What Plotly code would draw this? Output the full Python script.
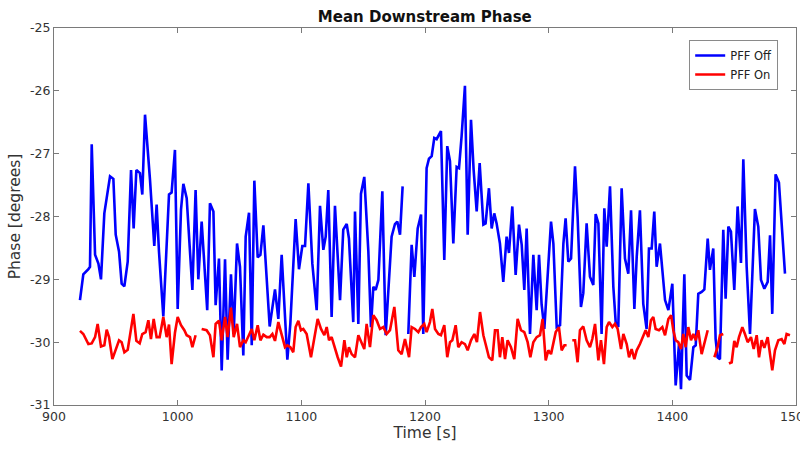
import plotly.graph_objects as go

# PFF Off (blue) — None marks gaps in the record
t_off = [921.0, 923.7, 927.8, 929.1, 930.5, 933.2, 935.9, 938.0, 940.7, 945.3, 948.0, 949.9, 952.6, 954.7,
         956.9, 959.6, 962.3, 964.4, 966.6, 969.5, 971.4, 973.6, 977.6, 981.1, 983.0, 984.9, 988.4, 993.0,
         995.1, 997.8, 1000.0, 1002.7, 1004.6, 1007.3, 1011.9, 1014.5, 1016.7, 1019.4, 1023.9, 1026.1,
         1028.9, 1030.7, 1033.4, 1035.6, 1038.3, 1040.4, 1043.1, 1045.3, 1048.0, 1050.4, 1053.1, 1055.0,
         1057.7, 1059.9, 1062.0, 1064.7, 1066.9, 1069.3, 1074.4, 1078.7, 1081.4, 1084.1, 1088.7, 1091.1,
         1095.4, 1098.1, 1100.8, 1103.0, 1105.7, 1108.9, 1112.4, 1115.1, 1117.8, 1119.7, 1121.8, 1124.5,
         1127.2, 1131.3, 1133.9, 1136.7, 1138.5, 1142.0, 1143.4, 1146.1, 1148.2, 1150.9, 1154.2, 1156.3,
         1158.2, 1160.1, 1162.3, 1165.5, 1168.2, 1173.0, 1175.7, 1177.6, 1179.8, 1181.9, 1184.0, 1186.5,
         1189.2, 1191.4, 1194.1, 1196.8, 1198.6, 1201.3, 1203.2, 1205.4, 1207.5, 1209.4, 1211.3, 1212.9,
         1215.6, 1218.0, 1220.2, 1222.9, 1225.6, 1227.5, 1229.6, 1232.3, 1234.5, 1237.2, 1239.3, 1241.8,
         1244.2, 1247.2, 1249.0, 1251.7, 1253.9, 1256.0, 1257.9, 1260.6, 1263.3, 1266.0, 1267.9, 1270.6,
         1273.3, 1276.0, 1278.2, 1280.3, 1282.2, 1284.9, 1287.6, 1290.3, 1292.2, 1294.3, 1296.5, 1299.2,
         1301.9, 1303.8, 1306.5, 1309.2, 1311.9, 1313.7, 1315.9, 1318.1, 1321.3, 1323.4, 1326.1, 1328.0,
         1330.7, 1333.4, 1336.1, 1338.0, 1340.2, 1342.8, 1345.0, 1346.9, 1349.6, 1352.3, 1354.2, 1356.3,
         1359.0, 1361.7, 1364.4, 1366.6, 1369.3, 1371.2, 1373.8, 1376.5, 1379.2, 1381.1, 1383.3, 1385.4,
         1387.3, 1390.0, 1392.7, 1394.1, 1396.8, 1400.0, 1402.7, 1405.4, 1407.0, 1409.7, 1411.6, 1414.3,
         1417.0, 1418.9, 1421.0, 1423.7, 1425.9, 1428.6, 1430.4, 1433.1, 1435.0, 1436.6, 1438.5, 1441.2,
         1443.1, 1445.3, 1447.4, 1450.1, 1452.8, 1455.5, 1457.4, 1460.1, 1462.8, 1466.8, 1469.5, 1471.7,
         1474.4, 1477.1, 1479.0, 1480.8, 1483.5, 1486.2, 1491.1]
phase_off = [-29.33, -28.92, -28.84, -28.80, -26.85, -28.61, -28.75, -29.00, -27.95, -27.36, -27.40, -28.29,
             -28.56, -29.07, -29.11, -28.72, -27.26, -28.19, -27.26, -27.31, -27.65, -26.38, -27.41, -28.47,
             -27.81, -28.56, -29.59, -27.65, -27.62, -26.94, -29.47, -27.89, -27.48, -27.71, -29.17, -27.58,
             -29.00, -28.08, -29.49, -27.79, -27.92, -29.41, -28.67, -30.45, -28.68, -30.28, -28.92, -29.87,
             -28.43, -28.80, -30.21, -28.32, -27.94, -30.05, -27.43, -28.65, -28.61, -28.14, -29.75, -29.16,
             -29.63, -28.61, -30.28, -29.71, -28.04, -28.84, -28.47, -28.47, -27.47, -28.75, -29.49, -27.83,
             -28.53, -28.32, -27.58, -29.60, -27.83, -29.33, -28.21, -28.12, -28.35, -29.68, -27.92, -29.71,
             -27.64, -27.37, -28.56, -29.76, -29.12, -29.17, -29.01, -27.60, -29.89, -28.32, -28.12, -28.08,
             -28.29, -27.52, None, -29.87, -28.45, -28.96, -28.19, -27.97, -29.87, -27.23, -27.08, -27.04,
             -26.75, -26.77, -26.69, -26.64, -28.69, -26.88, -27.12, -28.43, -27.21, -27.23, -26.72, -25.92,
             -28.29, -26.46, -27.25, -27.92, -27.15, -28.13, -28.11, -27.55, -28.19, -27.95, -28.11, -28.43,
             -29.04, -28.32, -28.58, -27.84, -28.93, -28.13, -28.45, -29.17, -28.19, -29.87, -28.61, -29.49,
             -28.61, -29.40, -29.79, -28.85, -28.08, -28.43, -29.76, -29.73, -28.43, -28.03, -28.72, -28.67,
             -27.20, -28.00, -29.44, -29.22, -28.11, -28.96, -29.09, -27.96, -28.11, -29.87, -27.87, -28.48,
             -27.52, -29.12, -29.68, -29.76, -27.55, -28.67, -28.91, -27.90, -29.47, -28.64, -27.90, -29.39,
             -29.79, -28.51, -28.51, -27.92, -28.80, -28.43, -29.04, -29.33, -29.49, -29.07, -30.69, -30.03,
             -30.75, -28.92, -30.53, -30.60, -30.08, -30.05, -29.23, -29.20, -29.16, -28.35, -28.85, -28.51,
             -29.95, -30.24, -30.27, -28.21, -29.31, -28.16, -28.24, -29.17, -27.84, -28.74, -27.09, -28.80,
             -29.87, -27.88, -28.16, -29.01, -29.15, -29.04, -28.30, -29.55, -27.33, -27.46, -28.91]

# PFF On (red)
t_on = [921.0, 923.7, 927.8, 930.5, 933.2, 935.3, 938.0, 940.7, 942.6, 944.5, 947.2, 949.9, 952.6, 954.7,
        956.9, 959.6, 962.3, 964.2, 966.6, 969.3, 971.4, 974.1, 976.3, 978.4, 980.6, 983.0, 985.4, 988.4,
        991.1, 993.0, 995.1, 997.8, 1000.0, 1002.7, 1005.4, 1007.3, 1010.0, 1011.9, 1014.5, 1017.0,
        1019.4, 1023.4, 1026.1, 1028.9, 1030.7, 1033.4, 1035.6, 1038.3, 1040.4, 1043.1, 1045.3, 1048.0,
        1050.4, 1053.1, 1055.0, 1057.7, 1059.9, 1062.0, 1064.7, 1066.9, 1069.3, 1072.0, 1074.4, 1076.6,
        1078.7, 1081.4, 1084.1, 1086.8, 1088.7, 1091.1, 1093.5, 1095.4, 1097.6, 1099.7, 1101.6, 1104.3,
        1107.8, 1110.5, 1113.2, 1115.9, 1118.6, 1120.5, 1122.4, 1124.5, 1126.7, 1129.4, 1132.1, 1134.8,
        1136.7, 1138.5, 1140.7, 1143.4, 1146.1, 1148.8, 1150.9, 1152.8, 1155.5, 1158.2, 1160.9, 1163.6,
        1166.3, 1169.0, 1171.7, 1175.2, 1178.4, 1181.1, 1183.8, 1187.1, 1189.2, 1191.9, 1194.6, 1196.8,
        1199.4, 1201.3, 1204.0, 1205.9, 1208.1, 1210.8, 1212.9, 1215.6, 1218.0, 1220.2, 1222.1, 1224.8,
        1226.9, 1229.6, 1232.3, 1234.5, 1237.2, 1239.9, 1242.0, 1244.5, 1247.2, 1249.0, 1251.7, 1254.4,
        1256.6, 1258.7, 1260.6, 1262.5, 1264.7, 1266.8, 1269.5, 1272.2, 1274.9, 1277.6, 1280.3, 1283.0,
        1285.2, 1287.6, 1290.3, 1293.0, 1295.1, 1297.6, 1299.7, 1301.9, 1303.8, 1305.7, 1308.3, 1310.5,
        1312.7, 1314.5, 1316.8, 1319.1, 1321.3, 1323.4, 1325.3, 1328.0, 1330.7, 1333.4, 1335.3, 1337.5,
        1340.2, 1342.3, 1344.7, 1346.9, 1348.8, 1351.5, 1353.6, 1355.8, 1358.5, 1360.4, 1363.1, 1365.0,
        1367.1, 1369.3, 1371.2, 1373.8, 1376.5, 1378.4, 1380.6, 1382.7, 1384.6, 1386.5, 1389.2, 1391.9,
        1394.1, 1396.8, 1399.0, 1400.8, 1402.7, 1404.8, 1407.0, 1408.9, 1410.8, 1412.9, 1415.1, 1417.0,
        1418.9, 1421.0, 1423.7, 1426.4, 1428.6, 1431.3, 1434.0, 1436.6, 1438.5, 1441.2, 1443.5, 1445.8,
        1448.0, 1450.1, 1452.0, 1453.9, 1456.6, 1458.7, 1460.9, 1463.6, 1465.8, 1468.2, 1470.1, 1472.2,
        1474.4, 1477.1, 1479.0, 1480.8, 1483.0, 1485.7, 1488.4, 1490.6, 1492.4, 1495.1]
phase_on = [-29.82, -29.87, -30.03, -30.02, -29.92, -29.71, -30.07, -30.05, -29.80, -29.92, -30.27, -30.11,
            -29.97, -30.00, -30.16, -30.12, -29.81, -29.55, -29.98, -30.02, -29.87, -29.84, -29.65, -29.95,
            -29.63, -29.92, -29.92, -29.60, -29.92, -29.72, -30.35, -29.85, -29.60, -29.73, -29.81, -29.89,
            -29.92, -30.08, -29.89, None, -29.79, -29.81, -29.89, -30.24, -29.71, -29.66, -29.97, -29.60,
            -29.92, -29.45, -29.92, -29.71, -30.08, -29.97, -30.00, -29.87, -29.79, -29.97, -29.73, -29.97,
            -29.88, -29.92, -29.92, -29.87, -29.98, -29.68, -29.87, -30.08, -30.05, -30.08, -30.16, -29.76,
            -29.66, -29.81, -29.79, -29.87, -30.24, -29.92, -29.63, -29.79, -29.89, -29.76, -29.97, -29.92,
            -30.08, -30.24, -30.39, -29.97, -30.24, -30.08, -30.19, -30.24, -29.89, -30.00, -30.11, -29.71,
            -30.08, -29.57, -29.65, -29.79, -29.76, -29.87, -29.81, -29.44, -30.13, -30.19, -29.95, -30.24,
            -29.76, -29.79, -29.84, -29.76, -29.71, -29.84, -29.68, -29.47, -29.79, -29.87, -29.89, -29.73,
            -30.24, -30.00, -29.97, -29.73, -30.08, -30.00, -30.03, -30.13, -29.97, -29.87, -30.00, -29.52,
            -29.89, -30.03, -30.24, -30.29, -29.81, -29.81, -30.24, -29.92, -30.27, -29.97, -30.08, -30.27,
            -29.63, -29.81, -29.84, -30.00, -30.24, -30.00, -29.92, -29.89, -29.63, -30.29, -30.13, -30.19,
            -30.03, -29.84, -29.76, -30.13, -30.05, -30.05, None, -29.97, -29.97, -30.32, -29.81, -29.75,
            -29.97, -30.08, -29.95, -29.71, -30.29, -29.97, -30.35, -29.76, -29.68, -29.76, -29.71, -29.79,
            -30.11, -29.87, -30.03, -30.24, -30.11, -30.27, -30.13, -30.03, -29.89, -29.81, -29.92, -29.65,
            -29.60, -29.79, -29.81, -29.76, -29.89, -29.63, -29.57, -29.81, -29.97, -30.00, -30.11, -29.87,
            -30.08, -29.76, -29.97, -29.87, -29.97, -29.81, -30.19, -29.97, -29.81, None, -30.24, -30.08,
            -29.89, -29.87, None, -30.34, -30.32, -29.98, -30.08, -29.92, -29.76, -29.87, -30.00, -29.92,
            -30.11, -29.89, -30.24, -29.97, -30.09, -29.92, -30.19, -30.45, -30.13, -29.97, -29.95, -30.03,
            -29.87, -29.89]

x_ticks = [900, 1000, 1100, 1200, 1300, 1400, 1500]
y_ticks = [-31, -30, -29, -28, -27, -26, -25]

FONT = "DejaVu Sans"
AXIS_COL = "#7a7a7a"

fig = go.Figure()
fig.add_trace(go.Scatter(x=t_off, y=phase_off, mode="lines", name="PFF Off",
                         line=dict(color="#0000ff", width=2.6), connectgaps=False))
fig.add_trace(go.Scatter(x=t_on, y=phase_on, mode="lines", name="PFF On",
                         line=dict(color="#ff0000", width=2.6), connectgaps=False))

axis_common = dict(showline=True, linecolor=AXIS_COL, linewidth=1, mirror="allticks",
                   ticks="inside", ticklen=5, tickcolor=AXIS_COL, showgrid=False, zeroline=False,
                   ticklabeloverflow="allow", automargin=False,
                   tickfont=dict(family=FONT, size=12.5, color="#333333"))

fig.update_layout(
    width=800, height=449,
    margin=dict(l=54, r=4, t=28, b=44),
    paper_bgcolor="white", plot_bgcolor="white",
    title=dict(text="<b>Mean Downstream Phase</b>", x=0.531, xanchor="center",
               y=1 - 17 / 449, yanchor="middle", yref="container",
               font=dict(family=FONT, size=15, color="#111111")),
    xaxis=dict(range=[900, 1500], tickvals=x_ticks, ticktext=[str(v) for v in x_ticks],
               title=dict(text="Time [s]", font=dict(family=FONT, size=15.5, color="#333333"), standoff=3),
               **axis_common),
    yaxis=dict(range=[-31, -25], tickvals=y_ticks, ticktext=[str(v) for v in y_ticks],
               title=dict(text="Phase [degrees]", font=dict(family=FONT, size=15.5, color="#333333"), standoff=5),
               **axis_common),
    legend=dict(x=0.976, y=0.968, xanchor="right", yanchor="top",
                bgcolor="white", bordercolor="#8a8a8a", borderwidth=1,
                font=dict(family=FONT, size=11.5, color="#222222"),
                itemwidth=30, tracegroupgap=0),
    showlegend=True,
)

fig.write_html("out.html")
